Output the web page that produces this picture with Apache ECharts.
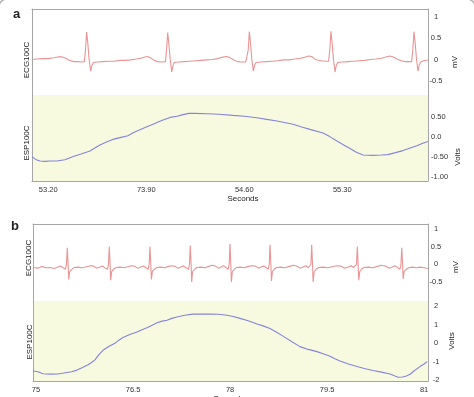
<!DOCTYPE html>
<html>
<head>
<meta charset="utf-8">
<script src="https://cdn.jsdelivr.net/npm/echarts@6/dist/echarts.min.js"></script>
<style>
  html, body { margin: 0; padding: 0; background: #fff; }
  #chart { width: 474px; height: 397px; }
</style>
</head>
<body>
<div id="chart"></div>
<script>
// panel a : ECG (mV) and respiration (Volts) against seconds
const ecgA = [
  [53.084, 0.00], [53.12, 0.01], [53.16, 0.02], [53.20, 0.02], [53.24, 0.04], [53.27, 0.06], [53.30, 0.06],
  [53.325, 0.03], [53.35, -0.02], [53.38, -0.05], [53.41, -0.05], [53.44, -0.06], [53.458, -0.05],
  [53.466, 0.22], [53.474, 0.64], [53.482, 0.40], [53.492, 0.00], [53.503, -0.27], [53.512, -0.14], [53.522, -0.07],
  [53.55, -0.06], [53.59, -0.05], [53.63, -0.04], [53.67, -0.04], [53.71, -0.02], [53.75, -0.02], [53.79, -0.01],
  [53.83, 0.01], [53.86, 0.03], [53.89, 0.06], [53.91, 0.07], [53.93, 0.04], [53.955, -0.02], [53.98, -0.05],
  [54.01, -0.06], [54.037, -0.05], [54.045, 0.22], [54.053, 0.63], [54.061, 0.38], [54.071, 0.00], [54.082, -0.29],
  [54.091, -0.14], [54.10, -0.07],
  [54.13, -0.06], [54.17, -0.05], [54.21, -0.04], [54.25, -0.03], [54.29, -0.02], [54.33, -0.01], [54.37, 0.00],
  [54.41, 0.02], [54.44, 0.05], [54.47, 0.07], [54.495, 0.05], [54.52, 0.00], [54.55, -0.05], [54.58, -0.06],
  [54.61, -0.06], [54.62, -0.05], [54.628, 0.22], [54.636, 0.65], [54.644, 0.40], [54.654, 0.00], [54.665, -0.27],
  [54.674, -0.13], [54.684, -0.07],
  [54.72, -0.06], [54.76, -0.05], [54.80, -0.04], [54.84, -0.03], [54.88, -0.01], [54.92, -0.01], [54.96, 0.01],
  [55.00, 0.03], [55.03, 0.05], [55.06, 0.08], [55.08, 0.07], [55.10, 0.02], [55.12, -0.01], [55.15, -0.03],
  [55.18, -0.04], [55.202, -0.04], [55.211, 0.24], [55.219, 0.66], [55.227, 0.40], [55.237, 0.00], [55.248, -0.29],
  [55.257, -0.14], [55.267, -0.07],
  [55.30, -0.06], [55.34, -0.05], [55.38, -0.04], [55.42, -0.03], [55.46, -0.02], [55.50, 0.00], [55.54, 0.01],
  [55.58, 0.03], [55.61, 0.06], [55.64, 0.08], [55.665, 0.06], [55.69, 0.01], [55.72, -0.03], [55.75, -0.05],
  [55.78, -0.05], [55.795, -0.05], [55.804, 0.24], [55.812, 0.65], [55.820, 0.40], [55.830, 0.00], [55.841, -0.27],
  [55.850, -0.12], [55.860, -0.06], [55.88, -0.03], [55.912, -0.01]
];
const espA = [
  [53.084, -0.50], [53.11, -0.57], [53.141, -0.61], [53.18, -0.62], [53.212, -0.61], [53.26, -0.61], [53.319, -0.58],
  [53.379, -0.50], [53.44, -0.43], [53.498, -0.36], [53.53, -0.29], [53.569, -0.21], [53.62, -0.13], [53.662, -0.07],
  [53.72, -0.02], [53.769, 0.02], [53.81, 0.10], [53.855, 0.17], [53.90, 0.24], [53.948, 0.31], [54.01, 0.40],
  [54.070, 0.48], [54.12, 0.51], [54.162, 0.55], [54.205, 0.58], [54.248, 0.58], [54.334, 0.57], [54.42, 0.56],
  [54.519, 0.53], [54.60, 0.51], [54.691, 0.47], [54.76, 0.43], [54.834, 0.39], [54.948, 0.31], [55.01, 0.24],
  [55.069, 0.18], [55.162, 0.09], [55.21, 0.00], [55.262, -0.11], [55.31, -0.21], [55.355, -0.30], [55.40, -0.39],
  [55.448, -0.46], [55.519, -0.47], [55.58, -0.46], [55.626, -0.45], [55.68, -0.40], [55.733, -0.35], [55.79, -0.28],
  [55.833, -0.23], [55.87, -0.17], [55.912, -0.12]
];
const xTicksA = [53.2, 53.9, 54.6, 55.3];
const xLabelsA = ['53.20', '73.90', '54.60', '55.30'];
const ecgTicksA = [-0.5, 0, 0.5, 1];
const ecgLabelsA = ['-0.5', '0', '0.5', '1'];
const espTicksA = [-1, -0.5, 0, 0.5];
const espLabelsA = ['-1.00', '-0.50', '0.0', '0.50'];

// panel b
const ecgB = [
  [74.954, -0.09], [75.03, -0.11], [75.09, -0.06], [75.15, -0.10], [75.22, -0.09], [75.28, -0.12], [75.34, -0.08],
  [75.38, -0.05], [75.42, -0.10], [75.455, -0.14], [75.472, 0.00],
  [75.484, 0.47], [75.496, 0.05], [75.506, -0.43], [75.52, -0.21], [75.55, -0.15], [75.59, -0.09], [75.65, -0.08],
  [75.71, -0.10], [75.78, -0.07], [75.84, -0.04], [75.89, -0.05], [75.94, -0.11], [75.99, -0.08], [76.03, -0.05],
  [76.07, -0.11], [76.105, -0.14], [76.121, 0.00],
  [76.133, 0.50], [76.145, 0.05], [76.155, -0.45], [76.17, -0.21], [76.20, -0.14], [76.24, -0.09], [76.30, -0.08],
  [76.36, -0.10], [76.42, -0.07], [76.47, -0.04], [76.52, -0.05], [76.57, -0.11], [76.62, -0.08], [76.66, -0.05],
  [76.70, -0.10], [76.735, -0.14], [76.750, 0.00],
  [76.762, 0.50], [76.774, 0.05], [76.784, -0.43], [76.80, -0.20], [76.83, -0.14], [76.87, -0.09], [76.93, -0.08],
  [76.99, -0.10], [77.05, -0.06], [77.10, -0.04], [77.15, -0.06], [77.20, -0.11], [77.24, -0.08], [77.28, -0.05],
  [77.32, -0.10], [77.358, -0.14], [77.373, 0.00],
  [77.385, 0.53], [77.397, 0.05], [77.407, -0.50], [77.42, -0.22], [77.45, -0.14], [77.49, -0.09], [77.55, -0.08],
  [77.61, -0.10], [77.67, -0.06], [77.72, -0.03], [77.77, -0.05], [77.82, -0.11], [77.86, -0.08], [77.90, -0.04],
  [77.94, -0.10], [77.972, -0.14], [77.987, 0.00],
  [77.999, 0.57], [78.011, 0.05], [78.021, -0.50], [78.035, -0.22], [78.06, -0.15], [78.10, -0.09], [78.16, -0.08],
  [78.22, -0.10], [78.28, -0.06], [78.34, -0.04], [78.39, -0.05], [78.44, -0.11], [78.48, -0.08], [78.52, -0.05],
  [78.56, -0.10], [78.591, -0.14], [78.606, 0.00],
  [78.618, 0.55], [78.630, 0.05], [78.640, -0.47], [78.655, -0.21], [78.68, -0.14], [78.72, -0.09], [78.78, -0.08],
  [78.85, -0.10], [78.92, -0.06], [78.98, -0.03], [79.03, -0.05], [79.08, -0.11], [79.13, -0.08], [79.17, -0.04],
  [79.21, -0.10], [79.235, -0.14], [79.250, 0.00],
  [79.262, 0.55], [79.274, 0.05], [79.284, -0.50], [79.30, -0.22], [79.33, -0.14], [79.37, -0.09], [79.44, -0.08],
  [79.51, -0.10], [79.58, -0.07], [79.65, -0.04], [79.71, -0.05], [79.77, -0.11], [79.83, -0.08], [79.87, -0.04],
  [79.91, -0.09], [79.94, -0.14], [79.955, 0.00],
  [79.967, 0.50], [79.979, 0.05], [79.989, -0.45], [80.005, -0.21], [80.03, -0.14], [80.07, -0.09], [80.14, -0.08],
  [80.21, -0.10], [80.28, -0.06], [80.34, -0.03], [80.40, -0.05], [80.46, -0.11], [80.51, -0.08], [80.55, -0.04],
  [80.59, -0.10], [80.627, -0.14], [80.642, 0.00],
  [80.654, 0.47], [80.666, 0.05], [80.676, -0.42], [80.69, -0.21], [80.72, -0.15], [80.76, -0.10], [80.82, -0.08],
  [80.88, -0.10], [80.94, -0.08], [81.00, -0.10], [81.06, -0.12]
];
const espB = [
  [74.958, -1.50], [75.031, -1.54], [75.108, -1.65], [75.22, -1.67], [75.340, -1.66], [75.41, -1.62], [75.479, -1.58],
  [75.55, -1.54], [75.634, -1.45], [75.72, -1.31], [75.804, -1.16], [75.86, -1.04], [75.912, -0.90], [75.97, -0.63],
  [76.036, -0.38], [76.13, -0.16], [76.221, 0.00], [76.28, 0.17], [76.345, 0.31], [76.45, 0.48], [76.561, 0.61],
  [76.64, 0.73], [76.716, 0.84], [76.79, 0.97], [76.871, 1.11], [76.95, 1.20], [77.025, 1.25], [77.10, 1.35],
  [77.180, 1.42], [77.30, 1.52], [77.427, 1.58], [77.56, 1.59], [77.690, 1.58], [77.82, 1.57], [77.953, 1.52],
  [78.05, 1.45], [78.154, 1.35], [78.28, 1.22], [78.417, 1.04], [78.52, 0.93], [78.618, 0.80], [78.72, 0.60],
  [78.819, 0.39], [78.95, 0.10], [79.081, -0.18], [79.21, -0.33], [79.344, -0.45], [79.45, -0.58], [79.546, -0.70],
  [79.62, -0.84], [79.700, -0.96], [79.83, -1.12], [79.963, -1.26], [80.09, -1.38], [80.210, -1.47], [80.34, -1.56],
  [80.473, -1.66], [80.54, -1.76], [80.597, -1.84], [80.67, -1.82], [80.736, -1.76], [80.79, -1.66], [80.828, -1.54],
  [80.88, -1.40], [80.937, -1.26], [81.00, -1.12], [81.045, -0.99]
];
const xTicksB = [75, 76.5, 78, 79.5, 81];
const xLabelsB = ['75', '76.5', '78', '79.5', '81'];
const ecgTicksB = [-0.5, 0, 0.5, 1];
const ecgLabelsB = ['-0.5', '0', '0.5', '1'];
const espTicksB = [-2, -1, 0, 1, 2];
const espLabelsB = ['-2', '-1', '0', '1', '2'];

const FONT = '"Liberation Sans", Arial, sans-serif';
const frameLine = { show: true, onZero: false, lineStyle: { color: '#a6a6a6', width: 1 } };

function lookup(vals, labels) {
    return function (v) {
        const i = vals.findIndex(x => Math.abs(x - v) < 1e-6);
        return i >= 0 ? labels[i] : '';
    };
}

function xAxisOf(grid, min, max, pos, ticks, labels) {
    return {
        type: 'value', gridIndex: grid, min: min, max: max, position: pos,
        axisLine: frameLine, axisTick: { show: false }, splitLine: { show: false },
        axisLabel: ticks ? {
            show: true, customValues: ticks, formatter: lookup(ticks, labels),
            fontSize: 7.5, color: '#333', fontFamily: FONT, margin: 5
        } : { show: false }
    };
}

function yRight(grid, min, max, ticks, labels, align, margin) {
    return {
        type: 'value', gridIndex: grid, min: min, max: max, position: 'right',
        axisLine: frameLine, axisTick: { show: false }, splitLine: { show: false },
        axisLabel: {
            customValues: ticks, formatter: lookup(ticks, labels),
            fontSize: 7.5, color: '#333', fontFamily: FONT, align: align, margin: margin
        }
    };
}

function yLeft(grid, min, max) {
    return {
        type: 'value', gridIndex: grid, min: min, max: max, position: 'left',
        axisLine: frameLine, axisTick: { show: false }, splitLine: { show: false },
        axisLabel: { show: false }
    };
}

function vText(text, x, y) {
    return {
        type: 'text', x: x, y: y, rotation: Math.PI / 2,
        style: { text: text, fill: '#222', font: '8px ' + FONT, textAlign: 'center', textVerticalAlign: 'middle', align: 'center', verticalAlign: 'middle' }
    };
}

function hText(text, x, y, font) {
    return {
        type: 'text', x: x, y: y,
        style: { text: text, fill: '#222', font: font, textAlign: 'center', textVerticalAlign: 'middle', align: 'center', verticalAlign: 'middle' }
    };
}

const chart = echarts.init(document.getElementById('chart'));

chart.setOption({
    animation: false,
    backgroundColor: '#fff',
    textStyle: { fontFamily: FONT },
    grid: [
        { left: 32, top: 9, width: 396, height: 86, show: false },
        { left: 32, top: 95, width: 396, height: 86, show: true, backgroundColor: '#f8fadf', borderWidth: 0 },
        { left: 33, top: 224, width: 395, height: 77, show: false },
        { left: 33, top: 301, width: 395, height: 80, show: true, backgroundColor: '#f8fadf', borderWidth: 0 }
    ],
    xAxis: [
        xAxisOf(0, 53.084, 55.912, 'top', null, null),
        xAxisOf(1, 53.084, 55.912, 'bottom', xTicksA, xLabelsA),
        xAxisOf(2, 74.954, 81.06, 'top', null, null),
        xAxisOf(3, 74.954, 81.06, 'bottom', xTicksB, xLabelsB)
    ],
    yAxis: [
        yRight(0, -0.83, 1.18, ecgTicksA, ecgLabelsA, 'center', 8),
        yRight(1, -1.11, 1.04, espTicksA, espLabelsA, 'left', 3),
        yRight(2, -1.04, 1.14, ecgTicksB, ecgLabelsB, 'center', 8),
        yRight(3, -2.04, 2.29, espTicksB, espLabelsB, 'center', 8),
        yLeft(0, -0.83, 1.18),
        yLeft(1, -1.11, 1.04),
        yLeft(2, -1.04, 1.14),
        yLeft(3, -2.04, 2.29)
    ],
    series: [
        { name: 'ECG100C a', type: 'line', xAxisIndex: 0, yAxisIndex: 0, data: ecgA, showSymbol: false,
          lineStyle: { color: '#ea9496', width: 1.1 } },
        { name: 'ESP100C a', type: 'line', xAxisIndex: 1, yAxisIndex: 1, data: espA, showSymbol: false,
          lineStyle: { color: '#8484da', width: 1.1 } },
        { name: 'ECG100C b', type: 'line', xAxisIndex: 2, yAxisIndex: 2, data: ecgB, showSymbol: false,
          lineStyle: { color: '#ea9496', width: 1.1 } },
        { name: 'ESP100C b', type: 'line', xAxisIndex: 3, yAxisIndex: 3, data: espB, showSymbol: false,
          lineStyle: { color: '#8484da', width: 1.1 } }
    ],
    graphic: [
        { type: 'rect', shape: { x: -1, y: -1, width: 476, height: 420, r: 8 },
          style: { fill: 'none', stroke: '#b0b0b0', lineWidth: 1.5 } },
        hText('a', 16.5, 14, 'bold 13px ' + FONT),
        hText('b', 15, 226.5, 'bold 13px ' + FONT),
        vText('ECG100C', 27, 60),
        vText('ESP100C', 27, 143),
        vText('mV', 455, 62),
        vText('Volts', 458, 157),
        hText('Seconds', 243, 199, '8px ' + FONT),
        vText('ECG100C', 28.5, 258),
        vText('ESP100C', 29.3, 342),
        vText('mV', 456, 267),
        vText('Volts', 452, 341),
        hText('Seconds', 229, 399, '8px ' + FONT)
    ]
});

window.addEventListener('resize', () => {
    chart.resize();
});
</script>
</body>
</html>
